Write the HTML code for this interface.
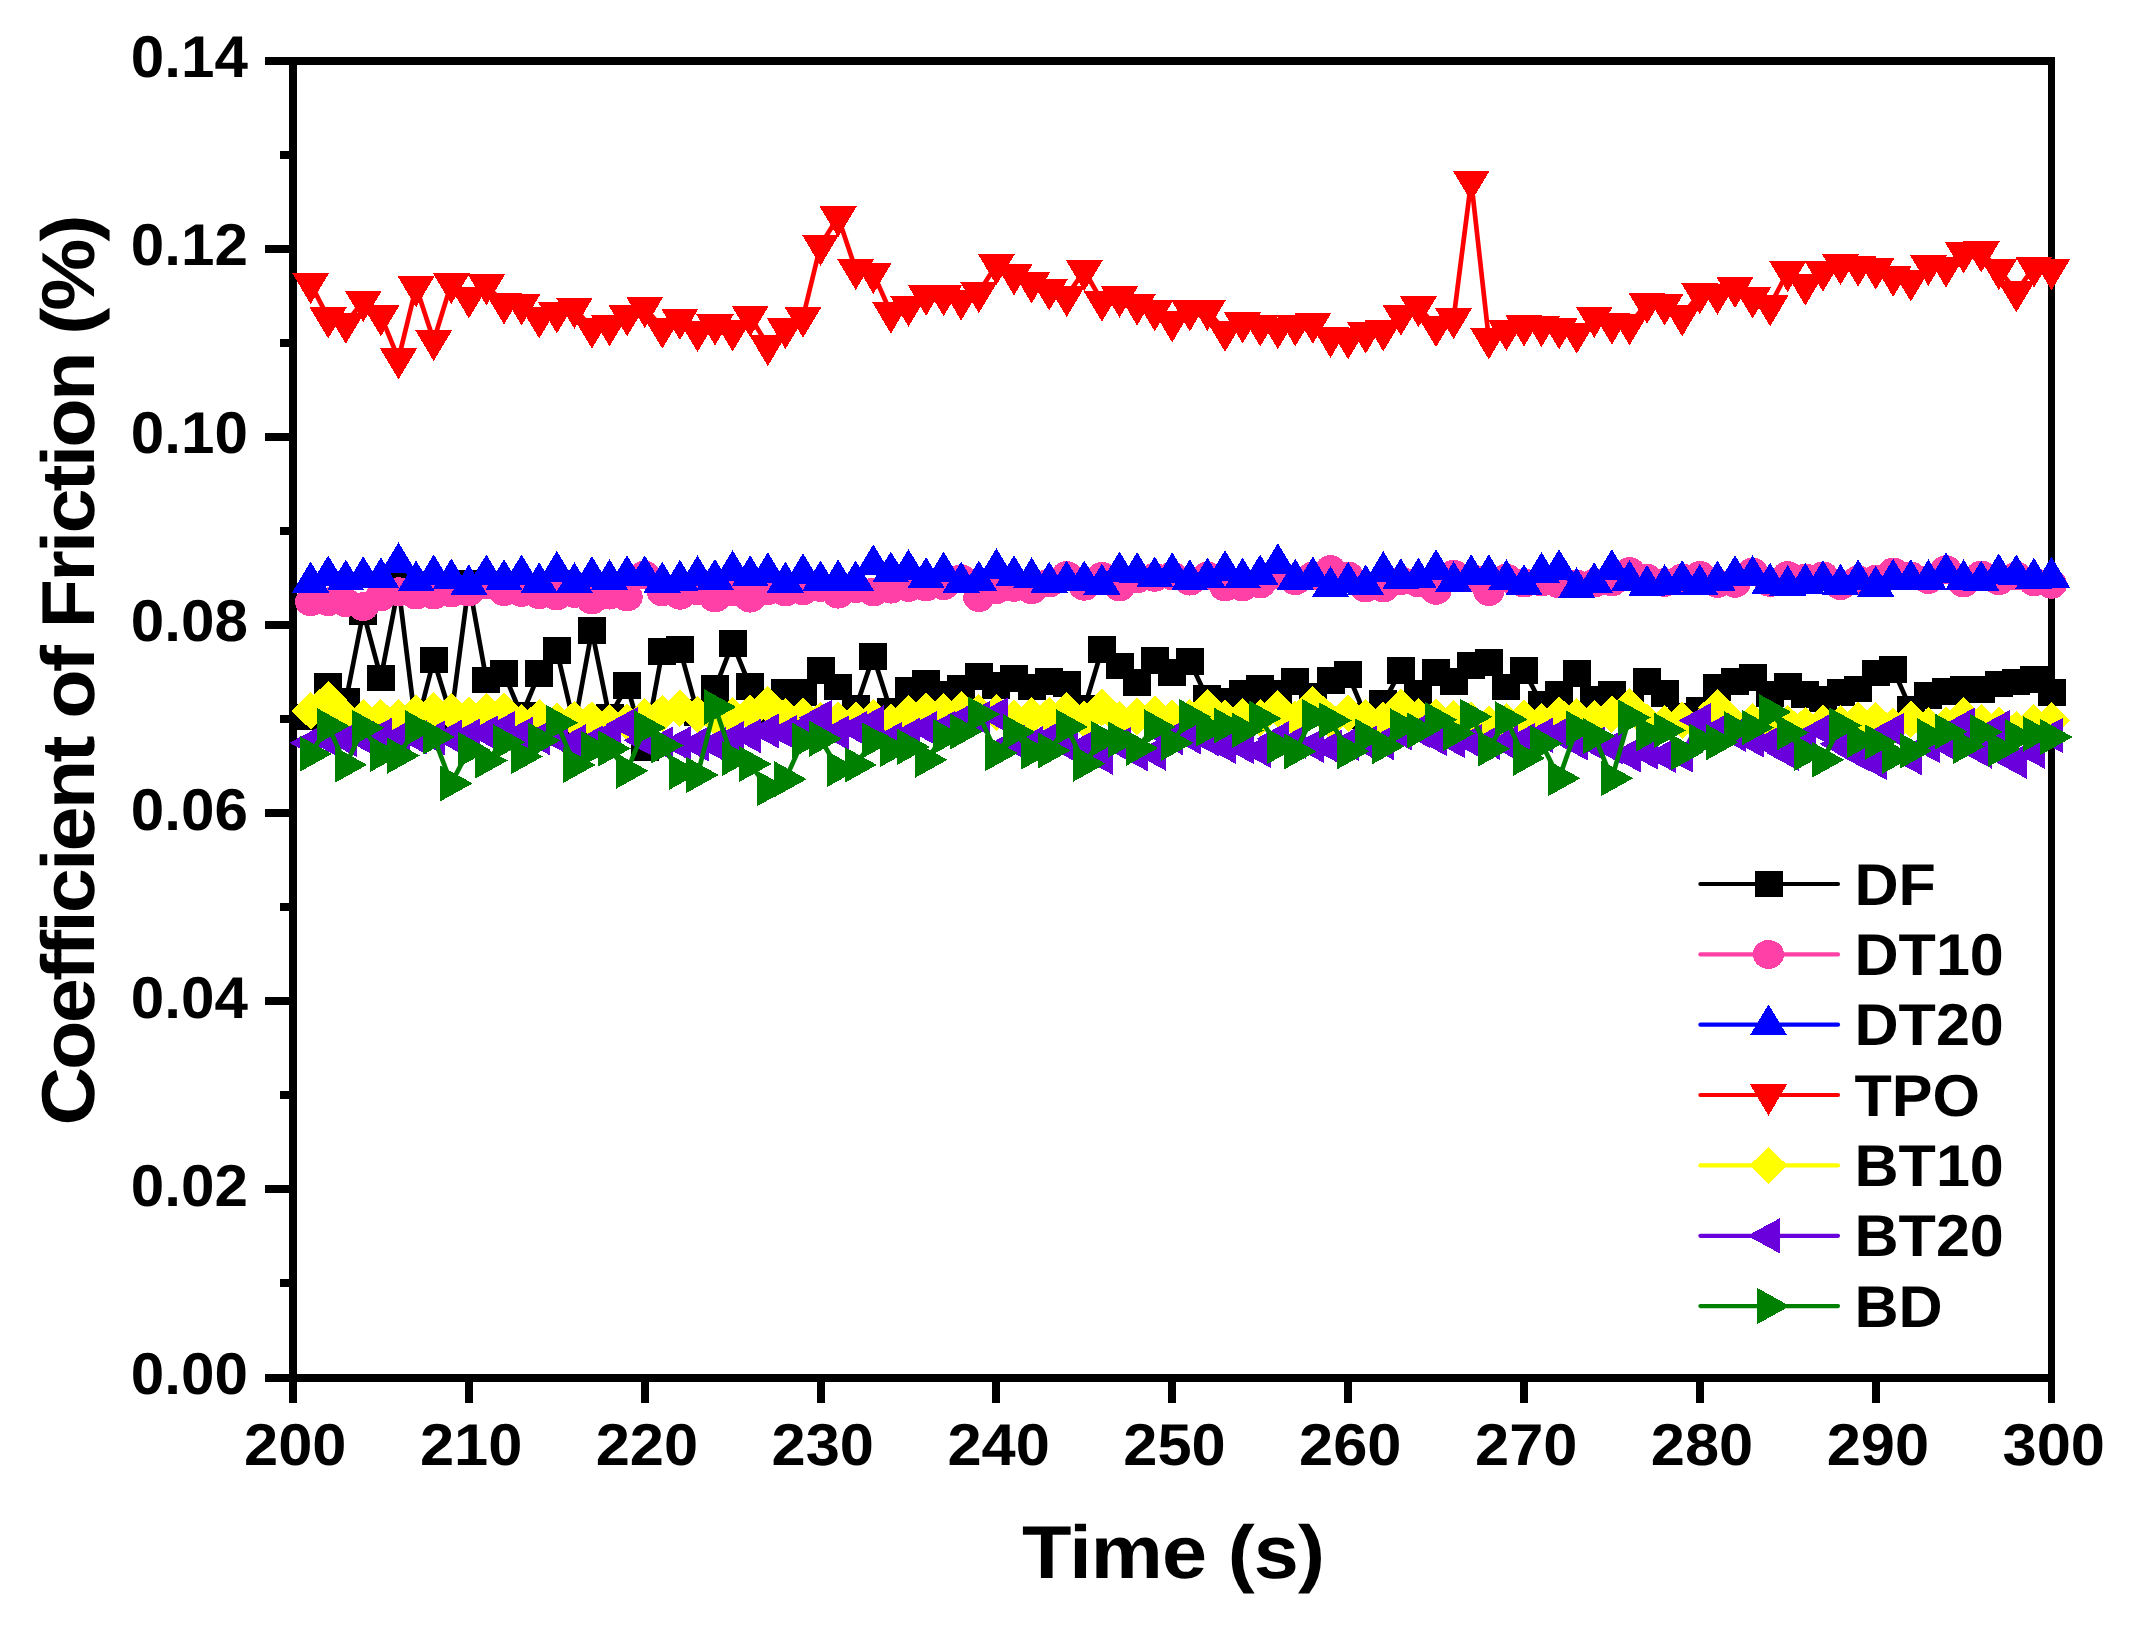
<!DOCTYPE html>
<html lang="en"><head><meta charset="utf-8"><title>Coefficient of Friction vs Time</title>
<style>
html,body{margin:0;padding:0;background:#fff}
body{width:2135px;height:1630px;overflow:hidden}
svg{display:block}
text{font-family:"Liberation Sans",sans-serif;font-weight:700;fill:#000}
.tk{font-size:59px}
.tt{font-size:75px}
.lg{font-size:59px}
</style></head><body>
<svg width="2135" height="1630" viewBox="0 0 2135 1630" shape-rendering="crispEdges" text-rendering="geometricPrecision">
<rect width="2135" height="1630" fill="#fff"/>

<g fill="#000">
<rect x="289" y="57" width="1766" height="7.5"/>
<rect x="289" y="1374" width="1766" height="7.5"/>
<rect x="289" y="57" width="8" height="1324.5"/>
<rect x="2048" y="57" width="7.2" height="1346"/>
<rect x="265" y="1373.5" width="26" height="8"/>
<rect x="279.5" y="1279.4" width="12" height="8"/>
<rect x="265" y="1185.4" width="26" height="8"/>
<rect x="279.5" y="1091.3" width="12" height="8"/>
<rect x="265" y="997.2" width="26" height="8"/>
<rect x="279.5" y="903.1" width="12" height="8"/>
<rect x="265" y="809.1" width="26" height="8"/>
<rect x="279.5" y="715.0" width="12" height="8"/>
<rect x="265" y="620.9" width="26" height="8"/>
<rect x="279.5" y="526.9" width="12" height="8"/>
<rect x="265" y="432.8" width="26" height="8"/>
<rect x="279.5" y="338.7" width="12" height="8"/>
<rect x="265" y="244.6" width="26" height="8"/>
<rect x="279.5" y="150.6" width="12" height="8"/>
<rect x="265" y="56.5" width="26" height="8"/>
<rect x="289.0" y="1378" width="8" height="25"/>
<rect x="464.9" y="1378" width="8" height="25"/>
<rect x="640.7" y="1378" width="8" height="25"/>
<rect x="816.5" y="1378" width="8" height="25"/>
<rect x="992.4" y="1378" width="8" height="25"/>
<rect x="1168.2" y="1378" width="8" height="25"/>
<rect x="1344.1" y="1378" width="8" height="25"/>
<rect x="1520.0" y="1378" width="8" height="25"/>
<rect x="1695.8" y="1378" width="8" height="25"/>
<rect x="1871.7" y="1378" width="8" height="25"/>
</g>
<g class="tk">
<text transform="translate(248 1394.0) scale(1.02 1)" text-anchor="end">0.00</text>
<text transform="translate(248 1205.9) scale(1.02 1)" text-anchor="end">0.02</text>
<text transform="translate(248 1017.7) scale(1.02 1)" text-anchor="end">0.04</text>
<text transform="translate(248 829.6) scale(1.02 1)" text-anchor="end">0.06</text>
<text transform="translate(248 641.4) scale(1.02 1)" text-anchor="end">0.08</text>
<text transform="translate(248 453.3) scale(1.02 1)" text-anchor="end">0.10</text>
<text transform="translate(248 265.1) scale(1.02 1)" text-anchor="end">0.12</text>
<text transform="translate(248 77.0) scale(1.02 1)" text-anchor="end">0.14</text>
<text transform="translate(295.2 1465.3) scale(1.04 1)" text-anchor="middle">200</text>
<text transform="translate(471.1 1465.3) scale(1.04 1)" text-anchor="middle">210</text>
<text transform="translate(646.9 1465.3) scale(1.04 1)" text-anchor="middle">220</text>
<text transform="translate(822.8 1465.3) scale(1.04 1)" text-anchor="middle">230</text>
<text transform="translate(998.6 1465.3) scale(1.04 1)" text-anchor="middle">240</text>
<text transform="translate(1174.5 1465.3) scale(1.04 1)" text-anchor="middle">250</text>
<text transform="translate(1350.3 1465.3) scale(1.04 1)" text-anchor="middle">260</text>
<text transform="translate(1526.2 1465.3) scale(1.04 1)" text-anchor="middle">270</text>
<text transform="translate(1702.0 1465.3) scale(1.04 1)" text-anchor="middle">280</text>
<text transform="translate(1877.9 1465.3) scale(1.04 1)" text-anchor="middle">290</text>
<text transform="translate(2053.7 1465.3) scale(1.04 1)" text-anchor="middle">300</text>
</g>
<text class="tt" transform="translate(1173.5 1578) scale(1.08 1)" text-anchor="middle" textLength="280.5" lengthAdjust="spacing">Time (s)</text>
<text class="tt" transform="translate(93.6 1125.5) rotate(-90) scale(1.08 1)" textLength="843.5" lengthAdjust="spacing">Coefficient of Friction (%)</text>
<g fill="#000000" stroke="none">
<polyline points="310.6,717.0 328.2,686.6 345.8,701.5 363.3,612.1 380.9,677.9 398.5,586.5 416.1,728.6 433.7,660.0 451.3,716.6 468.9,582.9 486.4,680.0 504.0,673.3 521.6,715.5 539.2,673.3 556.8,650.5 574.4,726.1 591.9,630.5 609.5,717.5 627.1,685.4 644.7,747.3 662.3,651.2 679.9,649.2 697.5,712.6 715.0,688.5 732.6,643.3 750.2,686.3 767.8,714.3 785.4,692.2 803.0,692.2 820.5,670.3 838.1,687.1 855.7,708.2 873.3,656.3 890.9,711.2 908.5,690.2 926.1,683.4 943.6,693.9 961.2,688.5 978.8,676.5 996.4,685.4 1014.0,678.4 1031.6,687.1 1049.2,681.2 1066.7,684.1 1084.3,708.2 1101.9,649.5 1119.5,666.1 1137.1,682.2 1154.7,660.5 1172.2,672.6 1189.8,661.3 1207.4,698.4 1225.0,701.5 1242.6,693.4 1260.2,688.5 1277.8,693.4 1295.3,681.6 1312.9,696.1 1330.5,680.4 1348.1,674.5 1365.7,716.0 1383.3,703.1 1400.9,670.3 1418.4,693.4 1436.0,672.3 1453.6,681.2 1471.2,665.2 1488.8,662.3 1506.4,687.1 1524.0,670.3 1541.5,704.0 1559.1,694.2 1576.7,673.3 1594.3,698.9 1611.9,694.2 1629.5,708.4 1647.0,681.2 1664.6,693.4 1682.2,716.0 1699.8,710.5 1717.4,687.4 1735.0,681.2 1752.6,677.3 1770.1,693.9 1787.7,686.6 1805.3,694.4 1822.9,698.9 1840.5,692.7 1858.1,688.8 1875.7,672.8 1893.2,669.4 1910.8,709.0 1928.4,695.6 1946.0,691.3 1963.6,689.7 1981.2,689.7 1998.7,683.8 2016.3,682.1 2033.9,679.5 2051.5,692.2" fill="none" stroke="#000000" stroke-width="4.7" stroke-linejoin="round" shape-rendering="auto"/>
<path d="M296.6 703.7h28v26.6h-28zM314.2 673.3h28v26.6h-28zM331.8 688.2h28v26.6h-28zM349.3 598.8h28v26.6h-28zM366.9 664.6h28v26.6h-28zM384.5 573.2h28v26.6h-28zM402.1 715.3h28v26.6h-28zM419.7 646.7h28v26.6h-28zM437.3 703.3h28v26.6h-28zM454.9 569.6h28v26.6h-28zM472.4 666.7h28v26.6h-28zM490.0 660.0h28v26.6h-28zM507.6 702.2h28v26.6h-28zM525.2 660.0h28v26.6h-28zM542.8 637.2h28v26.6h-28zM560.4 712.8h28v26.6h-28zM577.9 617.2h28v26.6h-28zM595.5 704.2h28v26.6h-28zM613.1 672.1h28v26.6h-28zM630.7 734.0h28v26.6h-28zM648.3 637.9h28v26.6h-28zM665.9 635.9h28v26.6h-28zM683.5 699.3h28v26.6h-28zM701.0 675.2h28v26.6h-28zM718.6 630.0h28v26.6h-28zM736.2 673.0h28v26.6h-28zM753.8 701.0h28v26.6h-28zM771.4 678.9h28v26.6h-28zM789.0 678.9h28v26.6h-28zM806.5 657.0h28v26.6h-28zM824.1 673.8h28v26.6h-28zM841.7 694.9h28v26.6h-28zM859.3 643.0h28v26.6h-28zM876.9 697.9h28v26.6h-28zM894.5 676.9h28v26.6h-28zM912.1 670.1h28v26.6h-28zM929.6 680.6h28v26.6h-28zM947.2 675.2h28v26.6h-28zM964.8 663.2h28v26.6h-28zM982.4 672.1h28v26.6h-28zM1000.0 665.1h28v26.6h-28zM1017.6 673.8h28v26.6h-28zM1035.2 667.9h28v26.6h-28zM1052.7 670.8h28v26.6h-28zM1070.3 694.9h28v26.6h-28zM1087.9 636.2h28v26.6h-28zM1105.5 652.8h28v26.6h-28zM1123.1 668.9h28v26.6h-28zM1140.7 647.2h28v26.6h-28zM1158.2 659.3h28v26.6h-28zM1175.8 648.0h28v26.6h-28zM1193.4 685.1h28v26.6h-28zM1211.0 688.2h28v26.6h-28zM1228.6 680.1h28v26.6h-28zM1246.2 675.2h28v26.6h-28zM1263.8 680.1h28v26.6h-28zM1281.3 668.3h28v26.6h-28zM1298.9 682.8h28v26.6h-28zM1316.5 667.1h28v26.6h-28zM1334.1 661.2h28v26.6h-28zM1351.7 702.7h28v26.6h-28zM1369.3 689.8h28v26.6h-28zM1386.9 657.0h28v26.6h-28zM1404.4 680.1h28v26.6h-28zM1422.0 659.0h28v26.6h-28zM1439.6 667.9h28v26.6h-28zM1457.2 651.9h28v26.6h-28zM1474.8 649.0h28v26.6h-28zM1492.4 673.8h28v26.6h-28zM1510.0 657.0h28v26.6h-28zM1527.5 690.7h28v26.6h-28zM1545.1 680.9h28v26.6h-28zM1562.7 660.0h28v26.6h-28zM1580.3 685.6h28v26.6h-28zM1597.9 680.9h28v26.6h-28zM1615.5 695.1h28v26.6h-28zM1633.0 667.9h28v26.6h-28zM1650.6 680.1h28v26.6h-28zM1668.2 702.7h28v26.6h-28zM1685.8 697.2h28v26.6h-28zM1703.4 674.1h28v26.6h-28zM1721.0 667.9h28v26.6h-28zM1738.6 664.0h28v26.6h-28zM1756.1 680.6h28v26.6h-28zM1773.7 673.3h28v26.6h-28zM1791.3 681.1h28v26.6h-28zM1808.9 685.6h28v26.6h-28zM1826.5 679.4h28v26.6h-28zM1844.1 675.5h28v26.6h-28zM1861.7 659.5h28v26.6h-28zM1879.2 656.1h28v26.6h-28zM1896.8 695.7h28v26.6h-28zM1914.4 682.3h28v26.6h-28zM1932.0 678.0h28v26.6h-28zM1949.6 676.4h28v26.6h-28zM1967.2 676.4h28v26.6h-28zM1984.7 670.5h28v26.6h-28zM2002.3 668.8h28v26.6h-28zM2019.9 666.2h28v26.6h-28zM2037.5 678.9h28v26.6h-28z"/>
</g>
<g fill="#ff40a6" stroke="none">
<polyline points="310.6,601.8 328.2,601.8 345.8,602.7 363.3,606.6 380.9,596.8 398.5,591.7 416.1,595.1 433.7,595.1 451.3,593.1 468.9,592.0 486.4,585.0 504.0,591.7 521.6,592.5 539.2,594.8 556.8,596.0 574.4,593.4 591.9,600.0 609.5,595.1 627.1,597.0 644.7,575.0 662.3,591.9 679.9,595.3 697.5,590.8 715.0,598.0 732.6,592.0 750.2,598.2 767.8,590.8 785.4,592.0 803.0,590.8 820.5,587.4 838.1,594.2 855.7,588.6 873.3,592.0 890.9,589.2 908.5,587.4 926.1,587.0 943.6,585.7 961.2,578.7 978.8,597.6 996.4,589.7 1014.0,587.4 1031.6,589.7 1049.2,583.0 1066.7,575.5 1084.3,586.3 1101.9,576.4 1119.5,587.0 1137.1,578.9 1154.7,577.3 1172.2,576.0 1189.8,581.1 1207.4,576.0 1225.0,587.0 1242.6,587.0 1260.2,584.0 1277.8,575.0 1295.3,580.7 1312.9,576.0 1330.5,569.7 1348.1,576.0 1365.7,588.0 1383.3,588.0 1400.9,580.7 1418.4,583.0 1436.0,590.4 1453.6,574.2 1471.2,578.0 1488.8,591.5 1506.4,578.2 1524.0,583.0 1541.5,582.0 1559.1,584.0 1576.7,584.0 1594.3,583.0 1611.9,582.0 1629.5,571.5 1647.0,578.2 1664.6,582.5 1682.2,578.0 1699.8,575.5 1717.4,583.4 1735.0,583.4 1752.6,572.0 1770.1,582.5 1787.7,575.5 1805.3,578.0 1822.9,576.0 1840.5,585.6 1858.1,580.0 1875.7,579.3 1893.2,572.0 1910.8,576.0 1928.4,579.6 1946.0,569.7 1963.6,583.0 1981.2,575.0 1998.7,580.7 2016.3,576.0 2033.9,581.8 2051.5,584.3" fill="none" stroke="#ff40a6" stroke-width="4.7" stroke-linejoin="round" shape-rendering="auto"/>
<path d="M295.0 601.8a15.6 14.4 0 1 0 31.2 0a15.6 14.4 0 1 0 -31.2 0zM312.6 601.8a15.6 14.4 0 1 0 31.2 0a15.6 14.4 0 1 0 -31.2 0zM330.2 602.7a15.6 14.4 0 1 0 31.2 0a15.6 14.4 0 1 0 -31.2 0zM347.7 606.6a15.6 14.4 0 1 0 31.2 0a15.6 14.4 0 1 0 -31.2 0zM365.3 596.8a15.6 14.4 0 1 0 31.2 0a15.6 14.4 0 1 0 -31.2 0zM382.9 591.7a15.6 14.4 0 1 0 31.2 0a15.6 14.4 0 1 0 -31.2 0zM400.5 595.1a15.6 14.4 0 1 0 31.2 0a15.6 14.4 0 1 0 -31.2 0zM418.1 595.1a15.6 14.4 0 1 0 31.2 0a15.6 14.4 0 1 0 -31.2 0zM435.7 593.1a15.6 14.4 0 1 0 31.2 0a15.6 14.4 0 1 0 -31.2 0zM453.2 592.0a15.6 14.4 0 1 0 31.2 0a15.6 14.4 0 1 0 -31.2 0zM470.8 585.0a15.6 14.4 0 1 0 31.2 0a15.6 14.4 0 1 0 -31.2 0zM488.4 591.7a15.6 14.4 0 1 0 31.2 0a15.6 14.4 0 1 0 -31.2 0zM506.0 592.5a15.6 14.4 0 1 0 31.2 0a15.6 14.4 0 1 0 -31.2 0zM523.6 594.8a15.6 14.4 0 1 0 31.2 0a15.6 14.4 0 1 0 -31.2 0zM541.2 596.0a15.6 14.4 0 1 0 31.2 0a15.6 14.4 0 1 0 -31.2 0zM558.8 593.4a15.6 14.4 0 1 0 31.2 0a15.6 14.4 0 1 0 -31.2 0zM576.3 600.0a15.6 14.4 0 1 0 31.2 0a15.6 14.4 0 1 0 -31.2 0zM593.9 595.1a15.6 14.4 0 1 0 31.2 0a15.6 14.4 0 1 0 -31.2 0zM611.5 597.0a15.6 14.4 0 1 0 31.2 0a15.6 14.4 0 1 0 -31.2 0zM629.1 575.0a15.6 14.4 0 1 0 31.2 0a15.6 14.4 0 1 0 -31.2 0zM646.7 591.9a15.6 14.4 0 1 0 31.2 0a15.6 14.4 0 1 0 -31.2 0zM664.3 595.3a15.6 14.4 0 1 0 31.2 0a15.6 14.4 0 1 0 -31.2 0zM681.9 590.8a15.6 14.4 0 1 0 31.2 0a15.6 14.4 0 1 0 -31.2 0zM699.4 598.0a15.6 14.4 0 1 0 31.2 0a15.6 14.4 0 1 0 -31.2 0zM717.0 592.0a15.6 14.4 0 1 0 31.2 0a15.6 14.4 0 1 0 -31.2 0zM734.6 598.2a15.6 14.4 0 1 0 31.2 0a15.6 14.4 0 1 0 -31.2 0zM752.2 590.8a15.6 14.4 0 1 0 31.2 0a15.6 14.4 0 1 0 -31.2 0zM769.8 592.0a15.6 14.4 0 1 0 31.2 0a15.6 14.4 0 1 0 -31.2 0zM787.4 590.8a15.6 14.4 0 1 0 31.2 0a15.6 14.4 0 1 0 -31.2 0zM804.9 587.4a15.6 14.4 0 1 0 31.2 0a15.6 14.4 0 1 0 -31.2 0zM822.5 594.2a15.6 14.4 0 1 0 31.2 0a15.6 14.4 0 1 0 -31.2 0zM840.1 588.6a15.6 14.4 0 1 0 31.2 0a15.6 14.4 0 1 0 -31.2 0zM857.7 592.0a15.6 14.4 0 1 0 31.2 0a15.6 14.4 0 1 0 -31.2 0zM875.3 589.2a15.6 14.4 0 1 0 31.2 0a15.6 14.4 0 1 0 -31.2 0zM892.9 587.4a15.6 14.4 0 1 0 31.2 0a15.6 14.4 0 1 0 -31.2 0zM910.5 587.0a15.6 14.4 0 1 0 31.2 0a15.6 14.4 0 1 0 -31.2 0zM928.0 585.7a15.6 14.4 0 1 0 31.2 0a15.6 14.4 0 1 0 -31.2 0zM945.6 578.7a15.6 14.4 0 1 0 31.2 0a15.6 14.4 0 1 0 -31.2 0zM963.2 597.6a15.6 14.4 0 1 0 31.2 0a15.6 14.4 0 1 0 -31.2 0zM980.8 589.7a15.6 14.4 0 1 0 31.2 0a15.6 14.4 0 1 0 -31.2 0zM998.4 587.4a15.6 14.4 0 1 0 31.2 0a15.6 14.4 0 1 0 -31.2 0zM1016.0 589.7a15.6 14.4 0 1 0 31.2 0a15.6 14.4 0 1 0 -31.2 0zM1033.6 583.0a15.6 14.4 0 1 0 31.2 0a15.6 14.4 0 1 0 -31.2 0zM1051.1 575.5a15.6 14.4 0 1 0 31.2 0a15.6 14.4 0 1 0 -31.2 0zM1068.7 586.3a15.6 14.4 0 1 0 31.2 0a15.6 14.4 0 1 0 -31.2 0zM1086.3 576.4a15.6 14.4 0 1 0 31.2 0a15.6 14.4 0 1 0 -31.2 0zM1103.9 587.0a15.6 14.4 0 1 0 31.2 0a15.6 14.4 0 1 0 -31.2 0zM1121.5 578.9a15.6 14.4 0 1 0 31.2 0a15.6 14.4 0 1 0 -31.2 0zM1139.1 577.3a15.6 14.4 0 1 0 31.2 0a15.6 14.4 0 1 0 -31.2 0zM1156.7 576.0a15.6 14.4 0 1 0 31.2 0a15.6 14.4 0 1 0 -31.2 0zM1174.2 581.1a15.6 14.4 0 1 0 31.2 0a15.6 14.4 0 1 0 -31.2 0zM1191.8 576.0a15.6 14.4 0 1 0 31.2 0a15.6 14.4 0 1 0 -31.2 0zM1209.4 587.0a15.6 14.4 0 1 0 31.2 0a15.6 14.4 0 1 0 -31.2 0zM1227.0 587.0a15.6 14.4 0 1 0 31.2 0a15.6 14.4 0 1 0 -31.2 0zM1244.6 584.0a15.6 14.4 0 1 0 31.2 0a15.6 14.4 0 1 0 -31.2 0zM1262.2 575.0a15.6 14.4 0 1 0 31.2 0a15.6 14.4 0 1 0 -31.2 0zM1279.7 580.7a15.6 14.4 0 1 0 31.2 0a15.6 14.4 0 1 0 -31.2 0zM1297.3 576.0a15.6 14.4 0 1 0 31.2 0a15.6 14.4 0 1 0 -31.2 0zM1314.9 569.7a15.6 14.4 0 1 0 31.2 0a15.6 14.4 0 1 0 -31.2 0zM1332.5 576.0a15.6 14.4 0 1 0 31.2 0a15.6 14.4 0 1 0 -31.2 0zM1350.1 588.0a15.6 14.4 0 1 0 31.2 0a15.6 14.4 0 1 0 -31.2 0zM1367.7 588.0a15.6 14.4 0 1 0 31.2 0a15.6 14.4 0 1 0 -31.2 0zM1385.3 580.7a15.6 14.4 0 1 0 31.2 0a15.6 14.4 0 1 0 -31.2 0zM1402.8 583.0a15.6 14.4 0 1 0 31.2 0a15.6 14.4 0 1 0 -31.2 0zM1420.4 590.4a15.6 14.4 0 1 0 31.2 0a15.6 14.4 0 1 0 -31.2 0zM1438.0 574.2a15.6 14.4 0 1 0 31.2 0a15.6 14.4 0 1 0 -31.2 0zM1455.6 578.0a15.6 14.4 0 1 0 31.2 0a15.6 14.4 0 1 0 -31.2 0zM1473.2 591.5a15.6 14.4 0 1 0 31.2 0a15.6 14.4 0 1 0 -31.2 0zM1490.8 578.2a15.6 14.4 0 1 0 31.2 0a15.6 14.4 0 1 0 -31.2 0zM1508.4 583.0a15.6 14.4 0 1 0 31.2 0a15.6 14.4 0 1 0 -31.2 0zM1525.9 582.0a15.6 14.4 0 1 0 31.2 0a15.6 14.4 0 1 0 -31.2 0zM1543.5 584.0a15.6 14.4 0 1 0 31.2 0a15.6 14.4 0 1 0 -31.2 0zM1561.1 584.0a15.6 14.4 0 1 0 31.2 0a15.6 14.4 0 1 0 -31.2 0zM1578.7 583.0a15.6 14.4 0 1 0 31.2 0a15.6 14.4 0 1 0 -31.2 0zM1596.3 582.0a15.6 14.4 0 1 0 31.2 0a15.6 14.4 0 1 0 -31.2 0zM1613.9 571.5a15.6 14.4 0 1 0 31.2 0a15.6 14.4 0 1 0 -31.2 0zM1631.4 578.2a15.6 14.4 0 1 0 31.2 0a15.6 14.4 0 1 0 -31.2 0zM1649.0 582.5a15.6 14.4 0 1 0 31.2 0a15.6 14.4 0 1 0 -31.2 0zM1666.6 578.0a15.6 14.4 0 1 0 31.2 0a15.6 14.4 0 1 0 -31.2 0zM1684.2 575.5a15.6 14.4 0 1 0 31.2 0a15.6 14.4 0 1 0 -31.2 0zM1701.8 583.4a15.6 14.4 0 1 0 31.2 0a15.6 14.4 0 1 0 -31.2 0zM1719.4 583.4a15.6 14.4 0 1 0 31.2 0a15.6 14.4 0 1 0 -31.2 0zM1737.0 572.0a15.6 14.4 0 1 0 31.2 0a15.6 14.4 0 1 0 -31.2 0zM1754.5 582.5a15.6 14.4 0 1 0 31.2 0a15.6 14.4 0 1 0 -31.2 0zM1772.1 575.5a15.6 14.4 0 1 0 31.2 0a15.6 14.4 0 1 0 -31.2 0zM1789.7 578.0a15.6 14.4 0 1 0 31.2 0a15.6 14.4 0 1 0 -31.2 0zM1807.3 576.0a15.6 14.4 0 1 0 31.2 0a15.6 14.4 0 1 0 -31.2 0zM1824.9 585.6a15.6 14.4 0 1 0 31.2 0a15.6 14.4 0 1 0 -31.2 0zM1842.5 580.0a15.6 14.4 0 1 0 31.2 0a15.6 14.4 0 1 0 -31.2 0zM1860.1 579.3a15.6 14.4 0 1 0 31.2 0a15.6 14.4 0 1 0 -31.2 0zM1877.6 572.0a15.6 14.4 0 1 0 31.2 0a15.6 14.4 0 1 0 -31.2 0zM1895.2 576.0a15.6 14.4 0 1 0 31.2 0a15.6 14.4 0 1 0 -31.2 0zM1912.8 579.6a15.6 14.4 0 1 0 31.2 0a15.6 14.4 0 1 0 -31.2 0zM1930.4 569.7a15.6 14.4 0 1 0 31.2 0a15.6 14.4 0 1 0 -31.2 0zM1948.0 583.0a15.6 14.4 0 1 0 31.2 0a15.6 14.4 0 1 0 -31.2 0zM1965.6 575.0a15.6 14.4 0 1 0 31.2 0a15.6 14.4 0 1 0 -31.2 0zM1983.1 580.7a15.6 14.4 0 1 0 31.2 0a15.6 14.4 0 1 0 -31.2 0zM2000.7 576.0a15.6 14.4 0 1 0 31.2 0a15.6 14.4 0 1 0 -31.2 0zM2018.3 581.8a15.6 14.4 0 1 0 31.2 0a15.6 14.4 0 1 0 -31.2 0zM2035.9 584.3a15.6 14.4 0 1 0 31.2 0a15.6 14.4 0 1 0 -31.2 0z"/>
</g>
<g fill="#0000ff" stroke="none">
<polyline points="310.6,581.8 328.2,575.6 345.8,579.6 363.3,576.4 380.9,577.6 398.5,562.5 416.1,580.7 433.7,574.6 451.3,578.5 468.9,584.4 486.4,574.6 504.0,579.3 521.6,574.6 539.2,582.3 556.8,571.2 574.4,582.3 591.9,576.3 609.5,579.3 627.1,575.4 644.7,575.5 662.3,581.8 679.9,580.0 697.5,575.5 715.0,578.9 732.6,570.5 750.2,575.5 767.8,572.3 785.4,581.8 803.0,573.5 820.5,580.7 838.1,579.5 855.7,580.7 873.3,564.5 890.9,571.7 908.5,569.4 926.1,577.3 943.6,571.7 961.2,581.8 978.8,580.7 996.4,568.3 1014.0,575.5 1031.6,577.3 1049.2,581.8 1066.7,580.7 1084.3,580.7 1101.9,584.0 1119.5,571.7 1137.1,572.3 1154.7,576.6 1172.2,572.3 1189.8,579.5 1207.4,577.7 1225.0,570.5 1242.6,577.7 1260.2,574.6 1277.8,563.3 1295.3,578.9 1312.9,576.6 1330.5,586.3 1348.1,581.8 1365.7,584.5 1383.3,571.2 1400.9,578.4 1418.4,577.7 1436.0,569.4 1453.6,581.3 1471.2,574.3 1488.8,574.3 1506.4,579.5 1524.0,584.5 1541.5,572.3 1559.1,569.4 1576.7,587.4 1594.3,582.4 1611.9,569.4 1629.5,580.2 1647.0,585.1 1664.6,584.5 1682.2,580.2 1699.8,584.0 1717.4,580.7 1735.0,575.5 1752.6,575.5 1770.1,582.9 1787.7,585.1 1805.3,582.9 1822.9,580.2 1840.5,584.0 1858.1,579.5 1875.7,585.8 1893.2,578.9 1910.8,579.5 1928.4,579.5 1946.0,572.3 1963.6,579.5 1981.2,580.7 1998.7,573.5 2016.3,574.6 2033.9,578.0 2051.5,577.0" fill="none" stroke="#0000ff" stroke-width="4.7" stroke-linejoin="round" shape-rendering="auto"/>
<path d="M310.6 561.6l18.6 30.9h-37.2zM328.2 555.4l18.6 30.9h-37.2zM345.8 559.4l18.6 30.9h-37.2zM363.3 556.2l18.6 30.9h-37.2zM380.9 557.4l18.6 30.9h-37.2zM398.5 542.3l18.6 30.9h-37.2zM416.1 560.5l18.6 30.9h-37.2zM433.7 554.4l18.6 30.9h-37.2zM451.3 558.3l18.6 30.9h-37.2zM468.9 564.2l18.6 30.9h-37.2zM486.4 554.4l18.6 30.9h-37.2zM504.0 559.1l18.6 30.9h-37.2zM521.6 554.4l18.6 30.9h-37.2zM539.2 562.1l18.6 30.9h-37.2zM556.8 551.0l18.6 30.9h-37.2zM574.4 562.1l18.6 30.9h-37.2zM591.9 556.1l18.6 30.9h-37.2zM609.5 559.1l18.6 30.9h-37.2zM627.1 555.2l18.6 30.9h-37.2zM644.7 555.3l18.6 30.9h-37.2zM662.3 561.6l18.6 30.9h-37.2zM679.9 559.8l18.6 30.9h-37.2zM697.5 555.3l18.6 30.9h-37.2zM715.0 558.7l18.6 30.9h-37.2zM732.6 550.3l18.6 30.9h-37.2zM750.2 555.3l18.6 30.9h-37.2zM767.8 552.1l18.6 30.9h-37.2zM785.4 561.6l18.6 30.9h-37.2zM803.0 553.3l18.6 30.9h-37.2zM820.5 560.5l18.6 30.9h-37.2zM838.1 559.3l18.6 30.9h-37.2zM855.7 560.5l18.6 30.9h-37.2zM873.3 544.3l18.6 30.9h-37.2zM890.9 551.5l18.6 30.9h-37.2zM908.5 549.2l18.6 30.9h-37.2zM926.1 557.1l18.6 30.9h-37.2zM943.6 551.5l18.6 30.9h-37.2zM961.2 561.6l18.6 30.9h-37.2zM978.8 560.5l18.6 30.9h-37.2zM996.4 548.1l18.6 30.9h-37.2zM1014.0 555.3l18.6 30.9h-37.2zM1031.6 557.1l18.6 30.9h-37.2zM1049.2 561.6l18.6 30.9h-37.2zM1066.7 560.5l18.6 30.9h-37.2zM1084.3 560.5l18.6 30.9h-37.2zM1101.9 563.8l18.6 30.9h-37.2zM1119.5 551.5l18.6 30.9h-37.2zM1137.1 552.1l18.6 30.9h-37.2zM1154.7 556.4l18.6 30.9h-37.2zM1172.2 552.1l18.6 30.9h-37.2zM1189.8 559.3l18.6 30.9h-37.2zM1207.4 557.5l18.6 30.9h-37.2zM1225.0 550.3l18.6 30.9h-37.2zM1242.6 557.5l18.6 30.9h-37.2zM1260.2 554.4l18.6 30.9h-37.2zM1277.8 543.1l18.6 30.9h-37.2zM1295.3 558.7l18.6 30.9h-37.2zM1312.9 556.4l18.6 30.9h-37.2zM1330.5 566.1l18.6 30.9h-37.2zM1348.1 561.6l18.6 30.9h-37.2zM1365.7 564.3l18.6 30.9h-37.2zM1383.3 551.0l18.6 30.9h-37.2zM1400.9 558.2l18.6 30.9h-37.2zM1418.4 557.5l18.6 30.9h-37.2zM1436.0 549.2l18.6 30.9h-37.2zM1453.6 561.1l18.6 30.9h-37.2zM1471.2 554.1l18.6 30.9h-37.2zM1488.8 554.1l18.6 30.9h-37.2zM1506.4 559.3l18.6 30.9h-37.2zM1524.0 564.3l18.6 30.9h-37.2zM1541.5 552.1l18.6 30.9h-37.2zM1559.1 549.2l18.6 30.9h-37.2zM1576.7 567.2l18.6 30.9h-37.2zM1594.3 562.2l18.6 30.9h-37.2zM1611.9 549.2l18.6 30.9h-37.2zM1629.5 560.0l18.6 30.9h-37.2zM1647.0 564.9l18.6 30.9h-37.2zM1664.6 564.3l18.6 30.9h-37.2zM1682.2 560.0l18.6 30.9h-37.2zM1699.8 563.8l18.6 30.9h-37.2zM1717.4 560.5l18.6 30.9h-37.2zM1735.0 555.3l18.6 30.9h-37.2zM1752.6 555.3l18.6 30.9h-37.2zM1770.1 562.7l18.6 30.9h-37.2zM1787.7 564.9l18.6 30.9h-37.2zM1805.3 562.7l18.6 30.9h-37.2zM1822.9 560.0l18.6 30.9h-37.2zM1840.5 563.8l18.6 30.9h-37.2zM1858.1 559.3l18.6 30.9h-37.2zM1875.7 565.6l18.6 30.9h-37.2zM1893.2 558.7l18.6 30.9h-37.2zM1910.8 559.3l18.6 30.9h-37.2zM1928.4 559.3l18.6 30.9h-37.2zM1946.0 552.1l18.6 30.9h-37.2zM1963.6 559.3l18.6 30.9h-37.2zM1981.2 560.5l18.6 30.9h-37.2zM1998.7 553.3l18.6 30.9h-37.2zM2016.3 554.4l18.6 30.9h-37.2zM2033.9 557.8l18.6 30.9h-37.2zM2051.5 556.8l18.6 30.9h-37.2z"/>
</g>
<g fill="#ff0000" stroke="none">
<polyline points="310.6,283.5 328.2,317.9 345.8,323.3 363.3,301.3 380.9,315.8 398.5,358.9 416.1,286.7 433.7,340.6 451.3,283.5 468.9,297.9 486.4,285.0 504.0,303.9 521.6,305.0 539.2,317.9 556.8,313.0 574.4,308.2 591.9,328.1 609.5,325.9 627.1,315.8 644.7,307.4 662.3,328.1 679.9,319.4 697.5,331.5 715.0,325.0 732.6,330.9 750.2,316.4 767.8,345.5 785.4,328.7 803.0,317.3 820.5,245.3 838.1,216.9 855.7,269.5 873.3,273.3 890.9,313.0 908.5,306.1 926.1,295.3 943.6,295.7 961.2,300.1 978.8,292.7 996.4,264.5 1014.0,274.8 1031.6,282.8 1049.2,289.9 1066.7,296.4 1084.3,270.5 1101.9,301.1 1119.5,297.0 1137.1,305.0 1154.7,310.8 1172.2,321.8 1189.8,310.8 1207.4,310.4 1225.0,331.3 1242.6,322.9 1260.2,325.9 1277.8,328.7 1295.3,325.9 1312.9,323.3 1330.5,337.3 1348.1,338.8 1365.7,333.0 1383.3,330.9 1400.9,315.1 1418.4,306.7 1436.0,326.6 1453.6,318.6 1471.2,181.1 1488.8,338.8 1506.4,330.2 1524.0,325.9 1541.5,326.6 1559.1,328.7 1576.7,333.2 1594.3,317.3 1611.9,324.0 1629.5,324.8 1647.0,303.3 1664.6,305.0 1682.2,315.8 1699.8,293.6 1717.4,294.2 1735.0,287.6 1752.6,297.9 1770.1,305.7 1787.7,271.6 1805.3,285.0 1822.9,271.2 1840.5,264.5 1858.1,266.2 1875.7,269.0 1893.2,276.4 1910.8,280.9 1928.4,265.4 1946.0,267.1 1963.6,253.0 1981.2,251.9 1998.7,269.3 2016.3,291.8 2033.9,267.1 2051.5,269.9" fill="none" stroke="#ff0000" stroke-width="4.7" stroke-linejoin="round" shape-rendering="auto"/>
<path d="M310.6 304.1l-18.6 -31.2h37.2zM328.2 338.5l-18.6 -31.2h37.2zM345.8 343.9l-18.6 -31.2h37.2zM363.3 321.9l-18.6 -31.2h37.2zM380.9 336.4l-18.6 -31.2h37.2zM398.5 379.5l-18.6 -31.2h37.2zM416.1 307.3l-18.6 -31.2h37.2zM433.7 361.2l-18.6 -31.2h37.2zM451.3 304.1l-18.6 -31.2h37.2zM468.9 318.5l-18.6 -31.2h37.2zM486.4 305.6l-18.6 -31.2h37.2zM504.0 324.5l-18.6 -31.2h37.2zM521.6 325.6l-18.6 -31.2h37.2zM539.2 338.5l-18.6 -31.2h37.2zM556.8 333.6l-18.6 -31.2h37.2zM574.4 328.8l-18.6 -31.2h37.2zM591.9 348.7l-18.6 -31.2h37.2zM609.5 346.5l-18.6 -31.2h37.2zM627.1 336.4l-18.6 -31.2h37.2zM644.7 328.0l-18.6 -31.2h37.2zM662.3 348.7l-18.6 -31.2h37.2zM679.9 340.0l-18.6 -31.2h37.2zM697.5 352.1l-18.6 -31.2h37.2zM715.0 345.6l-18.6 -31.2h37.2zM732.6 351.5l-18.6 -31.2h37.2zM750.2 337.0l-18.6 -31.2h37.2zM767.8 366.1l-18.6 -31.2h37.2zM785.4 349.3l-18.6 -31.2h37.2zM803.0 337.9l-18.6 -31.2h37.2zM820.5 265.9l-18.6 -31.2h37.2zM838.1 237.5l-18.6 -31.2h37.2zM855.7 290.1l-18.6 -31.2h37.2zM873.3 293.9l-18.6 -31.2h37.2zM890.9 333.6l-18.6 -31.2h37.2zM908.5 326.7l-18.6 -31.2h37.2zM926.1 315.9l-18.6 -31.2h37.2zM943.6 316.3l-18.6 -31.2h37.2zM961.2 320.7l-18.6 -31.2h37.2zM978.8 313.3l-18.6 -31.2h37.2zM996.4 285.1l-18.6 -31.2h37.2zM1014.0 295.4l-18.6 -31.2h37.2zM1031.6 303.4l-18.6 -31.2h37.2zM1049.2 310.5l-18.6 -31.2h37.2zM1066.7 317.0l-18.6 -31.2h37.2zM1084.3 291.1l-18.6 -31.2h37.2zM1101.9 321.7l-18.6 -31.2h37.2zM1119.5 317.6l-18.6 -31.2h37.2zM1137.1 325.6l-18.6 -31.2h37.2zM1154.7 331.4l-18.6 -31.2h37.2zM1172.2 342.4l-18.6 -31.2h37.2zM1189.8 331.4l-18.6 -31.2h37.2zM1207.4 331.0l-18.6 -31.2h37.2zM1225.0 351.9l-18.6 -31.2h37.2zM1242.6 343.5l-18.6 -31.2h37.2zM1260.2 346.5l-18.6 -31.2h37.2zM1277.8 349.3l-18.6 -31.2h37.2zM1295.3 346.5l-18.6 -31.2h37.2zM1312.9 343.9l-18.6 -31.2h37.2zM1330.5 357.9l-18.6 -31.2h37.2zM1348.1 359.4l-18.6 -31.2h37.2zM1365.7 353.6l-18.6 -31.2h37.2zM1383.3 351.5l-18.6 -31.2h37.2zM1400.9 335.7l-18.6 -31.2h37.2zM1418.4 327.3l-18.6 -31.2h37.2zM1436.0 347.2l-18.6 -31.2h37.2zM1453.6 339.2l-18.6 -31.2h37.2zM1471.2 201.7l-18.6 -31.2h37.2zM1488.8 359.4l-18.6 -31.2h37.2zM1506.4 350.8l-18.6 -31.2h37.2zM1524.0 346.5l-18.6 -31.2h37.2zM1541.5 347.2l-18.6 -31.2h37.2zM1559.1 349.3l-18.6 -31.2h37.2zM1576.7 353.8l-18.6 -31.2h37.2zM1594.3 337.9l-18.6 -31.2h37.2zM1611.9 344.6l-18.6 -31.2h37.2zM1629.5 345.4l-18.6 -31.2h37.2zM1647.0 323.9l-18.6 -31.2h37.2zM1664.6 325.6l-18.6 -31.2h37.2zM1682.2 336.4l-18.6 -31.2h37.2zM1699.8 314.2l-18.6 -31.2h37.2zM1717.4 314.8l-18.6 -31.2h37.2zM1735.0 308.2l-18.6 -31.2h37.2zM1752.6 318.5l-18.6 -31.2h37.2zM1770.1 326.3l-18.6 -31.2h37.2zM1787.7 292.2l-18.6 -31.2h37.2zM1805.3 305.6l-18.6 -31.2h37.2zM1822.9 291.8l-18.6 -31.2h37.2zM1840.5 285.1l-18.6 -31.2h37.2zM1858.1 286.8l-18.6 -31.2h37.2zM1875.7 289.6l-18.6 -31.2h37.2zM1893.2 297.0l-18.6 -31.2h37.2zM1910.8 301.5l-18.6 -31.2h37.2zM1928.4 286.0l-18.6 -31.2h37.2zM1946.0 287.7l-18.6 -31.2h37.2zM1963.6 273.6l-18.6 -31.2h37.2zM1981.2 272.5l-18.6 -31.2h37.2zM1998.7 289.9l-18.6 -31.2h37.2zM2016.3 312.4l-18.6 -31.2h37.2zM2033.9 287.7l-18.6 -31.2h37.2zM2051.5 290.5l-18.6 -31.2h37.2z"/>
</g>
<g fill="#ffff00" stroke="none">
<polyline points="310.6,710.9 328.2,699.6 345.8,717.6 363.3,717.6 380.9,717.6 398.5,717.6 416.1,712.9 433.7,710.9 451.3,711.7 468.9,715.5 486.4,711.7 504.0,711.4 521.6,722.7 539.2,717.6 556.8,721.0 574.4,719.3 591.9,719.8 609.5,722.7 627.1,721.9 644.7,716.5 662.3,713.4 679.9,708.4 697.5,714.3 715.0,716.8 732.6,716.0 750.2,713.4 767.8,704.7 785.4,716.5 803.0,716.5 820.5,720.2 838.1,720.2 855.7,720.2 873.3,717.6 890.9,721.9 908.5,713.4 926.1,711.4 943.6,711.4 961.2,709.7 978.8,712.6 996.4,712.6 1014.0,718.5 1031.6,716.0 1049.2,715.5 1066.7,710.9 1084.3,719.3 1101.9,707.5 1119.5,719.3 1137.1,716.5 1154.7,714.3 1172.2,718.2 1189.8,717.6 1207.4,707.5 1225.0,718.5 1242.6,716.8 1260.2,717.6 1277.8,708.7 1295.3,719.3 1312.9,704.7 1330.5,720.2 1348.1,713.4 1365.7,717.6 1383.3,720.2 1400.9,707.5 1418.4,716.5 1436.0,717.6 1453.6,718.5 1471.2,720.2 1488.8,724.4 1506.4,721.9 1524.0,718.2 1541.5,721.9 1559.1,714.8 1576.7,716.5 1594.3,718.5 1611.9,714.3 1629.5,706.5 1647.0,721.9 1664.6,723.5 1682.2,720.4 1699.8,726.0 1717.4,707.5 1735.0,725.0 1752.6,721.4 1770.1,721.9 1787.7,723.4 1805.3,725.4 1822.9,723.2 1840.5,723.5 1858.1,720.2 1875.7,720.5 1893.2,726.0 1910.8,719.3 1928.4,726.0 1946.0,725.2 1963.6,715.5 1981.2,722.7 1998.7,725.2 2016.3,729.4 2033.9,722.7 2051.5,720.5" fill="none" stroke="#ffff00" stroke-width="4.7" stroke-linejoin="round" shape-rendering="auto"/>
<path d="M310.6 692.3l19 18.6l-19 18.6l-19 -18.6zM328.2 681.0l19 18.6l-19 18.6l-19 -18.6zM345.8 699.0l19 18.6l-19 18.6l-19 -18.6zM363.3 699.0l19 18.6l-19 18.6l-19 -18.6zM380.9 699.0l19 18.6l-19 18.6l-19 -18.6zM398.5 699.0l19 18.6l-19 18.6l-19 -18.6zM416.1 694.3l19 18.6l-19 18.6l-19 -18.6zM433.7 692.3l19 18.6l-19 18.6l-19 -18.6zM451.3 693.1l19 18.6l-19 18.6l-19 -18.6zM468.9 696.9l19 18.6l-19 18.6l-19 -18.6zM486.4 693.1l19 18.6l-19 18.6l-19 -18.6zM504.0 692.8l19 18.6l-19 18.6l-19 -18.6zM521.6 704.1l19 18.6l-19 18.6l-19 -18.6zM539.2 699.0l19 18.6l-19 18.6l-19 -18.6zM556.8 702.4l19 18.6l-19 18.6l-19 -18.6zM574.4 700.7l19 18.6l-19 18.6l-19 -18.6zM591.9 701.2l19 18.6l-19 18.6l-19 -18.6zM609.5 704.1l19 18.6l-19 18.6l-19 -18.6zM627.1 703.3l19 18.6l-19 18.6l-19 -18.6zM644.7 697.9l19 18.6l-19 18.6l-19 -18.6zM662.3 694.8l19 18.6l-19 18.6l-19 -18.6zM679.9 689.8l19 18.6l-19 18.6l-19 -18.6zM697.5 695.7l19 18.6l-19 18.6l-19 -18.6zM715.0 698.2l19 18.6l-19 18.6l-19 -18.6zM732.6 697.4l19 18.6l-19 18.6l-19 -18.6zM750.2 694.8l19 18.6l-19 18.6l-19 -18.6zM767.8 686.1l19 18.6l-19 18.6l-19 -18.6zM785.4 697.9l19 18.6l-19 18.6l-19 -18.6zM803.0 697.9l19 18.6l-19 18.6l-19 -18.6zM820.5 701.6l19 18.6l-19 18.6l-19 -18.6zM838.1 701.6l19 18.6l-19 18.6l-19 -18.6zM855.7 701.6l19 18.6l-19 18.6l-19 -18.6zM873.3 699.0l19 18.6l-19 18.6l-19 -18.6zM890.9 703.3l19 18.6l-19 18.6l-19 -18.6zM908.5 694.8l19 18.6l-19 18.6l-19 -18.6zM926.1 692.8l19 18.6l-19 18.6l-19 -18.6zM943.6 692.8l19 18.6l-19 18.6l-19 -18.6zM961.2 691.1l19 18.6l-19 18.6l-19 -18.6zM978.8 694.0l19 18.6l-19 18.6l-19 -18.6zM996.4 694.0l19 18.6l-19 18.6l-19 -18.6zM1014.0 699.9l19 18.6l-19 18.6l-19 -18.6zM1031.6 697.4l19 18.6l-19 18.6l-19 -18.6zM1049.2 696.9l19 18.6l-19 18.6l-19 -18.6zM1066.7 692.3l19 18.6l-19 18.6l-19 -18.6zM1084.3 700.7l19 18.6l-19 18.6l-19 -18.6zM1101.9 688.9l19 18.6l-19 18.6l-19 -18.6zM1119.5 700.7l19 18.6l-19 18.6l-19 -18.6zM1137.1 697.9l19 18.6l-19 18.6l-19 -18.6zM1154.7 695.7l19 18.6l-19 18.6l-19 -18.6zM1172.2 699.6l19 18.6l-19 18.6l-19 -18.6zM1189.8 699.0l19 18.6l-19 18.6l-19 -18.6zM1207.4 688.9l19 18.6l-19 18.6l-19 -18.6zM1225.0 699.9l19 18.6l-19 18.6l-19 -18.6zM1242.6 698.2l19 18.6l-19 18.6l-19 -18.6zM1260.2 699.0l19 18.6l-19 18.6l-19 -18.6zM1277.8 690.1l19 18.6l-19 18.6l-19 -18.6zM1295.3 700.7l19 18.6l-19 18.6l-19 -18.6zM1312.9 686.1l19 18.6l-19 18.6l-19 -18.6zM1330.5 701.6l19 18.6l-19 18.6l-19 -18.6zM1348.1 694.8l19 18.6l-19 18.6l-19 -18.6zM1365.7 699.0l19 18.6l-19 18.6l-19 -18.6zM1383.3 701.6l19 18.6l-19 18.6l-19 -18.6zM1400.9 688.9l19 18.6l-19 18.6l-19 -18.6zM1418.4 697.9l19 18.6l-19 18.6l-19 -18.6zM1436.0 699.0l19 18.6l-19 18.6l-19 -18.6zM1453.6 699.9l19 18.6l-19 18.6l-19 -18.6zM1471.2 701.6l19 18.6l-19 18.6l-19 -18.6zM1488.8 705.8l19 18.6l-19 18.6l-19 -18.6zM1506.4 703.3l19 18.6l-19 18.6l-19 -18.6zM1524.0 699.6l19 18.6l-19 18.6l-19 -18.6zM1541.5 703.3l19 18.6l-19 18.6l-19 -18.6zM1559.1 696.2l19 18.6l-19 18.6l-19 -18.6zM1576.7 697.9l19 18.6l-19 18.6l-19 -18.6zM1594.3 699.9l19 18.6l-19 18.6l-19 -18.6zM1611.9 695.7l19 18.6l-19 18.6l-19 -18.6zM1629.5 687.9l19 18.6l-19 18.6l-19 -18.6zM1647.0 703.3l19 18.6l-19 18.6l-19 -18.6zM1664.6 704.9l19 18.6l-19 18.6l-19 -18.6zM1682.2 701.8l19 18.6l-19 18.6l-19 -18.6zM1699.8 707.4l19 18.6l-19 18.6l-19 -18.6zM1717.4 688.9l19 18.6l-19 18.6l-19 -18.6zM1735.0 706.4l19 18.6l-19 18.6l-19 -18.6zM1752.6 702.8l19 18.6l-19 18.6l-19 -18.6zM1770.1 703.3l19 18.6l-19 18.6l-19 -18.6zM1787.7 704.8l19 18.6l-19 18.6l-19 -18.6zM1805.3 706.8l19 18.6l-19 18.6l-19 -18.6zM1822.9 704.6l19 18.6l-19 18.6l-19 -18.6zM1840.5 704.9l19 18.6l-19 18.6l-19 -18.6zM1858.1 701.6l19 18.6l-19 18.6l-19 -18.6zM1875.7 701.9l19 18.6l-19 18.6l-19 -18.6zM1893.2 707.4l19 18.6l-19 18.6l-19 -18.6zM1910.8 700.7l19 18.6l-19 18.6l-19 -18.6zM1928.4 707.4l19 18.6l-19 18.6l-19 -18.6zM1946.0 706.6l19 18.6l-19 18.6l-19 -18.6zM1963.6 696.9l19 18.6l-19 18.6l-19 -18.6zM1981.2 704.1l19 18.6l-19 18.6l-19 -18.6zM1998.7 706.6l19 18.6l-19 18.6l-19 -18.6zM2016.3 710.8l19 18.6l-19 18.6l-19 -18.6zM2033.9 704.1l19 18.6l-19 18.6l-19 -18.6zM2051.5 701.9l19 18.6l-19 18.6l-19 -18.6z"/>
</g>
<g fill="#6a00dc" stroke="none">
<polyline points="310.6,742.9 328.2,740.0 345.8,739.7 363.3,738.0 380.9,735.2 398.5,738.0 416.1,737.2 433.7,738.0 451.3,736.9 468.9,736.0 486.4,733.0 504.0,728.4 521.6,734.3 539.2,738.0 556.8,737.0 574.4,741.9 591.9,742.8 609.5,735.0 627.1,724.2 644.7,740.4 662.3,743.6 679.9,743.6 697.5,744.0 715.0,744.5 732.6,738.7 750.2,736.0 767.8,731.0 785.4,732.7 803.0,728.6 820.5,717.5 838.1,732.7 855.7,728.6 873.3,722.5 890.9,739.4 908.5,735.3 926.1,728.4 943.6,728.6 961.2,720.8 978.8,718.3 996.4,715.0 1014.0,742.0 1031.6,743.8 1049.2,738.7 1066.7,745.5 1084.3,747.0 1101.9,757.4 1119.5,744.5 1137.1,754.0 1154.7,753.2 1172.2,738.0 1189.8,737.0 1207.4,738.7 1225.0,746.5 1242.6,746.5 1260.2,750.7 1277.8,738.6 1295.3,742.0 1312.9,745.5 1330.5,747.3 1348.1,743.8 1365.7,742.9 1383.3,743.1 1400.9,733.0 1418.4,730.3 1436.0,738.7 1453.6,740.6 1471.2,741.3 1488.8,742.3 1506.4,742.9 1524.0,740.4 1541.5,735.3 1559.1,733.7 1576.7,743.1 1594.3,743.6 1611.9,747.2 1629.5,754.9 1647.0,752.2 1664.6,755.4 1682.2,755.4 1699.8,720.5 1717.4,730.6 1735.0,734.5 1752.6,740.0 1770.1,742.6 1787.7,753.2 1805.3,743.8 1822.9,729.4 1840.5,743.8 1858.1,753.9 1875.7,762.5 1893.2,730.1 1910.8,757.9 1928.4,745.5 1946.0,743.8 1963.6,725.1 1981.2,751.5 1998.7,727.6 2016.3,761.7 2033.9,751.5 2051.5,735.5" fill="none" stroke="#6a00dc" stroke-width="4.7" stroke-linejoin="round" shape-rendering="auto"/>
<path d="M289.4 742.9l32.3 -17.5v35zM307.0 740.0l32.3 -17.5v35zM324.6 739.7l32.3 -17.5v35zM342.1 738.0l32.3 -17.5v35zM359.7 735.2l32.3 -17.5v35zM377.3 738.0l32.3 -17.5v35zM394.9 737.2l32.3 -17.5v35zM412.5 738.0l32.3 -17.5v35zM430.1 736.9l32.3 -17.5v35zM447.7 736.0l32.3 -17.5v35zM465.2 733.0l32.3 -17.5v35zM482.8 728.4l32.3 -17.5v35zM500.4 734.3l32.3 -17.5v35zM518.0 738.0l32.3 -17.5v35zM535.6 737.0l32.3 -17.5v35zM553.2 741.9l32.3 -17.5v35zM570.7 742.8l32.3 -17.5v35zM588.3 735.0l32.3 -17.5v35zM605.9 724.2l32.3 -17.5v35zM623.5 740.4l32.3 -17.5v35zM641.1 743.6l32.3 -17.5v35zM658.7 743.6l32.3 -17.5v35zM676.3 744.0l32.3 -17.5v35zM693.8 744.5l32.3 -17.5v35zM711.4 738.7l32.3 -17.5v35zM729.0 736.0l32.3 -17.5v35zM746.6 731.0l32.3 -17.5v35zM764.2 732.7l32.3 -17.5v35zM781.8 728.6l32.3 -17.5v35zM799.3 717.5l32.3 -17.5v35zM816.9 732.7l32.3 -17.5v35zM834.5 728.6l32.3 -17.5v35zM852.1 722.5l32.3 -17.5v35zM869.7 739.4l32.3 -17.5v35zM887.3 735.3l32.3 -17.5v35zM904.9 728.4l32.3 -17.5v35zM922.4 728.6l32.3 -17.5v35zM940.0 720.8l32.3 -17.5v35zM957.6 718.3l32.3 -17.5v35zM975.2 715.0l32.3 -17.5v35zM992.8 742.0l32.3 -17.5v35zM1010.4 743.8l32.3 -17.5v35zM1028.0 738.7l32.3 -17.5v35zM1045.5 745.5l32.3 -17.5v35zM1063.1 747.0l32.3 -17.5v35zM1080.7 757.4l32.3 -17.5v35zM1098.3 744.5l32.3 -17.5v35zM1115.9 754.0l32.3 -17.5v35zM1133.5 753.2l32.3 -17.5v35zM1151.0 738.0l32.3 -17.5v35zM1168.6 737.0l32.3 -17.5v35zM1186.2 738.7l32.3 -17.5v35zM1203.8 746.5l32.3 -17.5v35zM1221.4 746.5l32.3 -17.5v35zM1239.0 750.7l32.3 -17.5v35zM1256.6 738.6l32.3 -17.5v35zM1274.1 742.0l32.3 -17.5v35zM1291.7 745.5l32.3 -17.5v35zM1309.3 747.3l32.3 -17.5v35zM1326.9 743.8l32.3 -17.5v35zM1344.5 742.9l32.3 -17.5v35zM1362.1 743.1l32.3 -17.5v35zM1379.7 733.0l32.3 -17.5v35zM1397.2 730.3l32.3 -17.5v35zM1414.8 738.7l32.3 -17.5v35zM1432.4 740.6l32.3 -17.5v35zM1450.0 741.3l32.3 -17.5v35zM1467.6 742.3l32.3 -17.5v35zM1485.2 742.9l32.3 -17.5v35zM1502.8 740.4l32.3 -17.5v35zM1520.3 735.3l32.3 -17.5v35zM1537.9 733.7l32.3 -17.5v35zM1555.5 743.1l32.3 -17.5v35zM1573.1 743.6l32.3 -17.5v35zM1590.7 747.2l32.3 -17.5v35zM1608.3 754.9l32.3 -17.5v35zM1625.8 752.2l32.3 -17.5v35zM1643.4 755.4l32.3 -17.5v35zM1661.0 755.4l32.3 -17.5v35zM1678.6 720.5l32.3 -17.5v35zM1696.2 730.6l32.3 -17.5v35zM1713.8 734.5l32.3 -17.5v35zM1731.4 740.0l32.3 -17.5v35zM1748.9 742.6l32.3 -17.5v35zM1766.5 753.2l32.3 -17.5v35zM1784.1 743.8l32.3 -17.5v35zM1801.7 729.4l32.3 -17.5v35zM1819.3 743.8l32.3 -17.5v35zM1836.9 753.9l32.3 -17.5v35zM1854.5 762.5l32.3 -17.5v35zM1872.0 730.1l32.3 -17.5v35zM1889.6 757.9l32.3 -17.5v35zM1907.2 745.5l32.3 -17.5v35zM1924.8 743.8l32.3 -17.5v35zM1942.4 725.1l32.3 -17.5v35zM1960.0 751.5l32.3 -17.5v35zM1977.5 727.6l32.3 -17.5v35zM1995.1 761.7l32.3 -17.5v35zM2012.7 751.5l32.3 -17.5v35zM2030.3 735.5l32.3 -17.5v35z"/>
</g>
<g fill="#008000" stroke="none">
<polyline points="310.6,753.9 328.2,726.1 345.8,764.9 363.3,727.8 380.9,754.2 398.5,755.6 416.1,728.1 433.7,737.0 451.3,783.4 468.9,749.7 486.4,760.6 504.0,742.1 521.6,756.4 539.2,740.4 556.8,722.7 574.4,764.9 591.9,748.8 609.5,748.5 627.1,770.8 644.7,727.8 662.3,745.5 679.9,772.1 697.5,775.0 715.0,707.0 732.6,758.4 750.2,764.0 767.8,788.5 785.4,779.2 803.0,740.4 820.5,738.7 838.1,769.1 855.7,764.9 873.3,740.4 890.9,749.2 908.5,746.8 926.1,759.8 943.6,736.7 961.2,731.6 978.8,714.3 996.4,753.1 1014.0,732.0 1031.6,752.0 1049.2,750.5 1066.7,726.9 1084.3,763.7 1101.9,738.7 1119.5,739.6 1137.1,748.0 1154.7,726.9 1172.2,742.9 1189.8,716.8 1207.4,728.6 1225.0,725.6 1242.6,730.3 1260.2,718.5 1277.8,746.3 1295.3,751.4 1312.9,716.8 1330.5,720.5 1348.1,751.4 1365.7,736.2 1383.3,746.3 1400.9,726.1 1418.4,730.6 1436.0,719.8 1453.6,733.3 1471.2,716.8 1488.8,748.8 1506.4,719.3 1524.0,758.1 1541.5,743.4 1559.1,778.3 1576.7,728.3 1594.3,736.2 1611.9,778.3 1629.5,717.6 1647.0,733.7 1664.6,730.3 1682.2,752.2 1699.8,741.2 1717.4,742.2 1735.0,729.1 1752.6,727.7 1770.1,712.0 1787.7,732.6 1805.3,753.1 1822.9,759.8 1840.5,725.6 1858.1,740.1 1875.7,742.1 1893.2,755.9 1910.8,750.9 1928.4,736.2 1946.0,731.6 1963.6,746.3 1981.2,732.0 1998.7,749.2 2016.3,737.0 2033.9,734.0 2051.5,737.0" fill="none" stroke="#008000" stroke-width="4.7" stroke-linejoin="round" shape-rendering="auto"/>
<path d="M331.9 753.9l-32.4 -18v36zM349.5 726.1l-32.4 -18v36zM367.1 764.9l-32.4 -18v36zM384.6 727.8l-32.4 -18v36zM402.2 754.2l-32.4 -18v36zM419.8 755.6l-32.4 -18v36zM437.4 728.1l-32.4 -18v36zM455.0 737.0l-32.4 -18v36zM472.6 783.4l-32.4 -18v36zM490.2 749.7l-32.4 -18v36zM507.7 760.6l-32.4 -18v36zM525.3 742.1l-32.4 -18v36zM542.9 756.4l-32.4 -18v36zM560.5 740.4l-32.4 -18v36zM578.1 722.7l-32.4 -18v36zM595.7 764.9l-32.4 -18v36zM613.2 748.8l-32.4 -18v36zM630.8 748.5l-32.4 -18v36zM648.4 770.8l-32.4 -18v36zM666.0 727.8l-32.4 -18v36zM683.6 745.5l-32.4 -18v36zM701.2 772.1l-32.4 -18v36zM718.8 775.0l-32.4 -18v36zM736.3 707.0l-32.4 -18v36zM753.9 758.4l-32.4 -18v36zM771.5 764.0l-32.4 -18v36zM789.1 788.5l-32.4 -18v36zM806.7 779.2l-32.4 -18v36zM824.3 740.4l-32.4 -18v36zM841.8 738.7l-32.4 -18v36zM859.4 769.1l-32.4 -18v36zM877.0 764.9l-32.4 -18v36zM894.6 740.4l-32.4 -18v36zM912.2 749.2l-32.4 -18v36zM929.8 746.8l-32.4 -18v36zM947.4 759.8l-32.4 -18v36zM964.9 736.7l-32.4 -18v36zM982.5 731.6l-32.4 -18v36zM1000.1 714.3l-32.4 -18v36zM1017.7 753.1l-32.4 -18v36zM1035.3 732.0l-32.4 -18v36zM1052.9 752.0l-32.4 -18v36zM1070.5 750.5l-32.4 -18v36zM1088.0 726.9l-32.4 -18v36zM1105.6 763.7l-32.4 -18v36zM1123.2 738.7l-32.4 -18v36zM1140.8 739.6l-32.4 -18v36zM1158.4 748.0l-32.4 -18v36zM1176.0 726.9l-32.4 -18v36zM1193.5 742.9l-32.4 -18v36zM1211.1 716.8l-32.4 -18v36zM1228.7 728.6l-32.4 -18v36zM1246.3 725.6l-32.4 -18v36zM1263.9 730.3l-32.4 -18v36zM1281.5 718.5l-32.4 -18v36zM1299.1 746.3l-32.4 -18v36zM1316.6 751.4l-32.4 -18v36zM1334.2 716.8l-32.4 -18v36zM1351.8 720.5l-32.4 -18v36zM1369.4 751.4l-32.4 -18v36zM1387.0 736.2l-32.4 -18v36zM1404.6 746.3l-32.4 -18v36zM1422.2 726.1l-32.4 -18v36zM1439.7 730.6l-32.4 -18v36zM1457.3 719.8l-32.4 -18v36zM1474.9 733.3l-32.4 -18v36zM1492.5 716.8l-32.4 -18v36zM1510.1 748.8l-32.4 -18v36zM1527.7 719.3l-32.4 -18v36zM1545.2 758.1l-32.4 -18v36zM1562.8 743.4l-32.4 -18v36zM1580.4 778.3l-32.4 -18v36zM1598.0 728.3l-32.4 -18v36zM1615.6 736.2l-32.4 -18v36zM1633.2 778.3l-32.4 -18v36zM1650.8 717.6l-32.4 -18v36zM1668.3 733.7l-32.4 -18v36zM1685.9 730.3l-32.4 -18v36zM1703.5 752.2l-32.4 -18v36zM1721.1 741.2l-32.4 -18v36zM1738.7 742.2l-32.4 -18v36zM1756.3 729.1l-32.4 -18v36zM1773.9 727.7l-32.4 -18v36zM1791.4 712.0l-32.4 -18v36zM1809.0 732.6l-32.4 -18v36zM1826.6 753.1l-32.4 -18v36zM1844.2 759.8l-32.4 -18v36zM1861.8 725.6l-32.4 -18v36zM1879.4 740.1l-32.4 -18v36zM1897.0 742.1l-32.4 -18v36zM1914.5 755.9l-32.4 -18v36zM1932.1 750.9l-32.4 -18v36zM1949.7 736.2l-32.4 -18v36zM1967.3 731.6l-32.4 -18v36zM1984.9 746.3l-32.4 -18v36zM2002.5 732.0l-32.4 -18v36zM2020.0 749.2l-32.4 -18v36zM2037.6 737.0l-32.4 -18v36zM2055.2 734.0l-32.4 -18v36zM2072.8 737.0l-32.4 -18v36z"/>
</g>
<g fill="#000000"><line x1="1700.4" y1="884.0" x2="1838" y2="884.0" stroke="#000000" stroke-width="4.2" stroke-linecap="round" shape-rendering="auto"/><path d="M1754.5 870.7h28v26.6h-28z"/></g>
<text class="lg" transform="translate(1854.5 904.5) scale(1.035 1)">DF</text>
<g fill="#ff40a6"><line x1="1700.4" y1="954.4" x2="1838" y2="954.4" stroke="#ff40a6" stroke-width="4.2" stroke-linecap="round" shape-rendering="auto"/><path d="M1752.9 954.4a15.6 14.4 0 1 0 31.2 0a15.6 14.4 0 1 0 -31.2 0z"/></g>
<text class="lg" transform="translate(1854.5 974.9) scale(1.035 1)">DT10</text>
<g fill="#0000ff"><line x1="1700.4" y1="1024.7" x2="1838" y2="1024.7" stroke="#0000ff" stroke-width="4.2" stroke-linecap="round" shape-rendering="auto"/><path d="M1768.5 1004.5l18.6 30.9h-37.2z"/></g>
<text class="lg" transform="translate(1854.5 1045.2) scale(1.035 1)">DT20</text>
<g fill="#ff0000"><line x1="1700.4" y1="1095.0" x2="1838" y2="1095.0" stroke="#ff0000" stroke-width="4.2" stroke-linecap="round" shape-rendering="auto"/><path d="M1768.5 1115.6l-18.6 -31.2h37.2z"/></g>
<text class="lg" transform="translate(1854.5 1115.5) scale(1.035 1)">TPO</text>
<g fill="#ffff00"><line x1="1700.4" y1="1165.4" x2="1838" y2="1165.4" stroke="#ffff00" stroke-width="4.2" stroke-linecap="round" shape-rendering="auto"/><path d="M1768.5 1146.8l19 18.6l-19 18.6l-19 -18.6z"/></g>
<text class="lg" transform="translate(1854.5 1185.9) scale(1.035 1)">BT10</text>
<g fill="#6a00dc"><line x1="1700.4" y1="1235.8" x2="1838" y2="1235.8" stroke="#6a00dc" stroke-width="4.2" stroke-linecap="round" shape-rendering="auto"/><path d="M1747.3 1235.8l32.3 -17.5v35z"/></g>
<text class="lg" transform="translate(1854.5 1256.2) scale(1.035 1)">BT20</text>
<g fill="#008000"><line x1="1700.4" y1="1306.1" x2="1838" y2="1306.1" stroke="#008000" stroke-width="4.2" stroke-linecap="round" shape-rendering="auto"/><path d="M1789.8 1306.1l-32.4 -18v36z"/></g>
<text class="lg" transform="translate(1854.5 1326.6) scale(1.035 1)">BD</text>
</svg></body></html>
